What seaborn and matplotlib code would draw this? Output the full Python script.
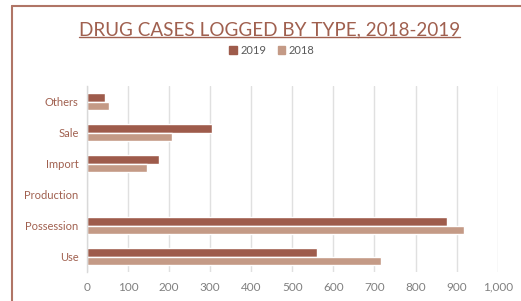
import matplotlib
matplotlib.use("Agg")
import matplotlib.pyplot as plt
import seaborn as sns
import pandas as pd
from matplotlib.lines import Line2D
from matplotlib.ticker import FuncFormatter

categories = ["Others", "Sale", "Import", "Production", "Possession", "Use"]
values_2019 = [45, 304, 175, 1, 877, 561]
values_2018 = [54, 206, 145, 1, 917, 717]
years = ["2019", "2018"]

df = pd.DataFrame({
    "Type": categories * 2,
    "Cases": values_2019 + values_2018,
    "Year": ["2019"] * len(categories) + ["2018"] * len(categories),
})

sns.set_theme(style="white")
plt.rcParams["font.family"] = ["Lato", "DejaVu Sans"]

c2019 = "#9E5B4B"
c2018 = "#C49A86"
title_c = "#A0604F"

fig = plt.figure(figsize=(5.21, 3.01), dpi=100)
ax = fig.add_axes([87 / 521, 1 - 272 / 301, (497.7 - 87) / 521, (272 - 86) / 301])

sns.barplot(data=df, y="Type", x="Cases", hue="Year", order=categories,
            hue_order=years, palette=[c2019, c2018], orient="h",
            width=0.56, ax=ax, legend=False, saturation=1)

ax.set_xlim(0, 1000)
ax.set_ylim(5.5, -0.5)
ax.set_xticks(range(0, 1001, 100))
ax.xaxis.set_major_formatter(FuncFormatter(lambda v, p: f"{int(v):,}"))
ax.set_xlabel("")
ax.set_ylabel("")
ax.grid(axis="x", color="#E0E0E0", linewidth=1)
ax.set_axisbelow(True)
for s in ["top", "right", "bottom"]:
    ax.spines[s].set_visible(False)
ax.spines["left"].set_color("#D9D9D9")
ax.spines["left"].set_linewidth(1)
ax.tick_params(axis="x", colors="#808080", labelsize=8.5, length=0, pad=13.5)
ax.tick_params(axis="y", labelcolor=title_c, labelsize=8, length=0, pad=6)
for lbl in ax.get_xticklabels():
    lbl.set_verticalalignment("baseline")

title = fig.text(269.5 / 521, 1 - 30 / 301, "DRUG CASES LOGGED BY TYPE, 2018-2019",
                 ha="center", va="center", fontsize=13.6, color=title_c)

handles = [plt.Rectangle((0, 0), 1, 1, color=c2019),
           plt.Rectangle((0, 0), 1, 1, color=c2018)]
leg = fig.legend(handles, years, loc="center", bbox_to_anchor=(272 / 521, 1 - 50 / 301),
                 ncol=2, frameon=False, fontsize=8, handlelength=0.7,
                 handleheight=0.7, handletextpad=0.3, columnspacing=1.0,
                 labelcolor="#595959")

# frame lines
fig.add_artist(Line2D([12 / 521, 1], [1 - 5.5 / 301, 1 - 5.5 / 301],
                      transform=fig.transFigure, color="#B07566", linewidth=1.5))
fig.add_artist(Line2D([12 / 521, 12 / 521], [0, 1 - 5.5 / 301],
                      transform=fig.transFigure, color="#B07566", linewidth=1.5))

# underline title
fig.canvas.draw()
bb = title.get_window_extent().transformed(fig.transFigure.inverted())
yl = bb.y0 + 0.006
fig.add_artist(Line2D([bb.x0, bb.x1], [yl, yl], transform=fig.transFigure,
                      color=title_c, linewidth=1))

fig.savefig("out.png", dpi=100)
